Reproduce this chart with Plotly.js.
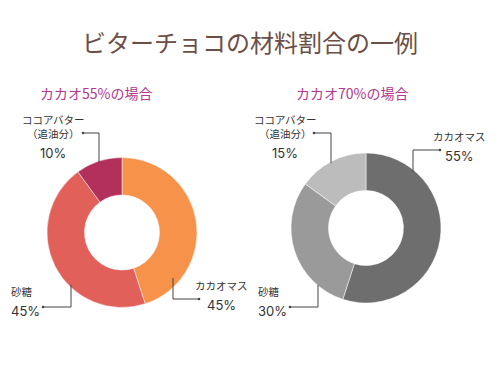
<!DOCTYPE html>
<html>
<head>
<meta charset="utf-8">
<script src="https://cdn.plot.ly/plotly-3.0.1.min.js"></script>
<style>html,body{margin:0;padding:0;background:#fff;}#chart{width:500px;height:375px;}</style>
</head>
<body>
<div id="chart"></div>
<script>
// ---- data ----
const chartTitle = "ビターチョコの材料割合の一例";
const panelTitles = ["カカオ55%の場合", "カカオ70%の場合"];
const ingredients = ["カカオマス", "砂糖", "ココアバター（追油分）"];
const labelLines = ["カカオマス", "砂糖", "ココアバター<br>（追油分）"];
const values55 = [45, 45, 10];
const values70 = [55, 30, 15];
const colors55 = ["#F7924A", "#E1615A", "#B3305D"];
const colors70 = ["#6E6E6E", "#9A9A9A", "#BCBCBC"];

const W = 500, H = 375;
const px = x => x / W;
const py = y => 1 - y / H;
const FONT = "Noto Sans CJK JP, Noto Sans, sans-serif";
const NUMFONT = "Inter, Roboto, sans-serif";

function pie(values, colors, cx, cy, r) {
  return {
    type: "pie",
    labels: ingredients,
    values: values,
    marker: {colors: colors, line: {color: "#fff", width: 0.5}},
    hole: 0.5,
    sort: false,
    direction: "clockwise",
    rotation: 0,
    textinfo: "none",
    hoverinfo: "label+percent",
    showlegend: false,
    domain: {x: [px(cx - r), px(cx + r)], y: [py(cy + r), py(cy - r)]}
  };
}

const data = [
  pie(values55, colors55, 122, 232.5, 75),
  pie(values70, colors70, 366, 228, 75)
];

const shapes = [];
const annotations = [];

function leader(x0, y0, xc, yc, x1, y1) {
  shapes.push({type: "path", xref: "paper", yref: "paper",
    path: `M ${px(x0)} ${py(y0)} L ${px(xc)} ${py(yc)} L ${px(x1)} ${py(y1)}`,
    line: {color: "#444", width: 1}});
  shapes.push({type: "circle", xref: "paper", yref: "paper",
    x0: px(x1 - 1.3), x1: px(x1 + 1.3), y0: py(y1 + 1.3), y1: py(y1 - 1.3),
    fillcolor: "#444", line: {width: 0}});
}
// name text ends at ySplit, percent text starts at ySplit
function label(name, value, x, ySplit, anchor) {
  const a = anchor || "center";
  annotations.push({text: name, x: px(x), y: py(ySplit), xref: "paper", yref: "paper",
    showarrow: false, xanchor: a, yanchor: "bottom", align: a,
    font: {family: FONT, size: 10.5, color: "#333"}});
  annotations.push({text: value + "%", x: px(x), y: py(ySplit), xref: "paper", yref: "paper",
    showarrow: false, xanchor: a, yanchor: "top", align: a,
    font: {family: NUMFONT, size: 13, color: "#333"}});
}

// Title & subtitles
annotations.push({text: chartTitle, x: 0.5, y: py(42), xref: "paper", yref: "paper",
  showarrow: false, xanchor: "center", yanchor: "middle",
  font: {family: FONT, size: 24, color: "#6B4F47"}});
annotations.push({text: panelTitles[0], x: px(96), y: py(93), xref: "paper", yref: "paper",
  showarrow: false, xanchor: "center", yanchor: "middle",
  font: {family: FONT, size: 14, color: "#B0388E"}});
annotations.push({text: panelTitles[1], x: px(352), y: py(93), xref: "paper", yref: "paper",
  showarrow: false, xanchor: "center", yanchor: "middle",
  font: {family: FONT, size: 14, color: "#B0388E"}});

// Left chart labels
label(labelLines[2], values55[2], 53, 143);
leader(99, 163, 99, 133, 83, 133);
label(labelLines[0], values55[0], 221, 295);
leader(173, 278, 173, 299, 199, 299);
label(labelLines[1], values55[1], 9, 301, "left");
leader(71, 285, 71, 307, 43, 307);

// Right chart labels
label(labelLines[2], values70[2], 285, 143);
leader(331, 163, 331, 133, 314, 133);
label(labelLines[0], values70[0], 459, 146);
leader(413, 172, 413, 150, 440, 150);
label(labelLines[1], values70[1], 256, 301, "left");
leader(318, 285, 318, 307, 290, 307);

const layout = {
  width: W, height: H,
  margin: {l: 0, r: 0, t: 0, b: 0},
  paper_bgcolor: "#fff",
  plot_bgcolor: "#fff",
  font: {family: FONT},
  shapes: shapes,
  annotations: annotations,
  showlegend: false
};

Plotly.newPlot("chart", data, layout, {displayModeBar: false, staticPlot: true});
</script>
</body>
</html>
